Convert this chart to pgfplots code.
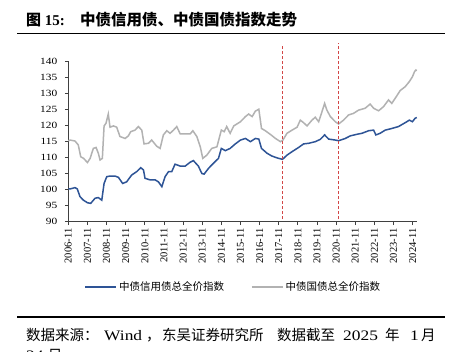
\documentclass[border=0pt]{standalone}
\usepackage{pgfplots}
\pgfplotsset{compat=1.18}
\usepackage{fontspec}
\setmainfont{Liberation Serif}
\newfontfamily\cjk{Noto Sans CJK SC}
\newfontfamily\wideserif[FakeStretch=1.2]{Liberation Serif}
\definecolor{blueline}{RGB}{46,84,150}
\definecolor{grayline}{RGB}{178,178,178}
\definecolor{reddash}{RGB}{210,70,70}
\begin{document}
\begin{tikzpicture}[x=1pt,y=1pt]
\path[use as bounding box] (0,0) rectangle (455,352);
\clip (0,0) rectangle (455,352);
\fill[white] (0,0) rectangle (455,352);
% title
\node[anchor=base west,inner sep=0pt] at (26,326) {\fontsize{15}{16}\selectfont{\cjk\bfseries 图} \textbf{15:}};
\node[anchor=base west,inner sep=0pt] at (80,326) {\fontsize{15.5}{16}\selectfont\cjk\bfseries 中债信用债、中债国债指数走势};
\draw[line width=1.6pt] (17,318.3) -- (445,318.3);
% bottom rule and source
\draw[line width=1.6pt] (17,35) -- (445,35);
\begin{scope}[every node/.style={anchor=base west,inner sep=0pt,font=\fontsize{14.5}{15}\selectfont}]
\node at (26,11) {\cjk 数据来源：};
\node at (104,11) {\wideserif Wind};
\node at (146,11) {\cjk ，};
\node at (162,11) {\cjk 东吴证券研究所};
\node at (277,11) {\cjk 数据截至};
\node at (343,11) {\wideserif 2025};
\node at (385,11) {\cjk 年};
\node at (410,11) {\wideserif 1};
\node at (421,11) {\cjk 月};
\node at (26,-9) {\wideserif 24 \cjk 日};
\end{scope}
\begin{axis}[
  at={(68.3pt,130.3pt)}, anchor=south west,
  scale only axis, width=349.1pt, height=160.7pt,
  xmin=0, xmax=18.25, ymin=90, ymax=140,
  axis x line*=bottom, axis y line*=left,
  axis line style={-, draw=black!75, line width=0.8pt},
  tick style={draw=black!75, line width=0.8pt},
  tick align=outside, major tick length=3.5pt,
  xtick={0,1,...,18},
  xticklabels={2006-11,2007-11,2008-11,2009-11,2010-11,2011-11,2012-11,2013-11,2014-11,2015-11,2016-11,2017-11,2018-11,2019-11,2020-11,2021-11,2022-11,2023-11,2024-11},
  ytick={90,95,...,140},
  /pgf/number format/assume math mode=true,
  x tick label style={rotate=90, anchor=east, font=\fontsize{10.5}{10.5}\selectfont},
  y tick label style={font=\wideserif\fontsize{9.5}{10}\selectfont, xshift=-4pt},
  clip=false,
  legend style={at={(0.473,-0.406)}, anchor=center, draw=none, fill=none,
    font=\cjk\fontsize{10.5}{11}\selectfont,
    /tikz/every even column/.append style={column sep=25pt}},
  legend columns=2,
  legend image code/.code={\draw[#1] (0pt,0pt) -- (31pt,0pt);},
]
\addplot[blueline, line width=1.5pt] coordinates {
(0,100.2) (0.1,100.2) (0.35,100.6) (0.47,100.2) (0.61,97.8) (0.79,96.7) (1.0,95.9) (1.17,95.7) (1.4,97.3) (1.57,97.5) (1.75,96.7) (1.87,101.9) (2.01,104.0) (2.18,104.2) (2.44,104.2) (2.62,103.8) (2.84,101.9) (3.05,102.4) (3.31,104.5) (3.58,105.6) (3.79,106.8) (3.93,106.1) (4.01,103.5) (4.28,103.0) (4.54,103.0) (4.71,102.4) (4.89,100.9) (5.06,104.0) (5.24,105.6) (5.41,105.6) (5.58,107.9) (5.85,107.3) (6.11,107.3) (6.37,108.5) (6.54,109.0) (6.8,107.3) (6.98,105.0) (7.1,104.8) (7.33,106.6) (7.59,108.2) (7.85,109.7) (8.0,112.8) (8.21,112.1) (8.46,112.8) (8.71,114.1) (9.0,115.4) (9.26,115.9) (9.52,114.9) (9.78,115.9) (9.96,115.7) (10.1,112.8) (10.39,111.3) (10.65,110.4) (11.0,109.7) (11.2,109.4) (11.43,110.7) (11.7,111.8) (12.04,113.1) (12.3,114.2) (12.57,114.4) (12.91,114.9) (13.17,115.6) (13.4,117.0) (13.61,115.7) (13.96,115.4) (14.13,115.2) (14.48,115.9) (14.74,116.7) (15.09,117.2) (15.35,117.5) (15.7,118.3) (15.96,118.5) (16.08,117.0) (16.3,117.5) (16.57,118.5) (16.91,119.0) (17.26,119.6) (17.61,120.8) (17.83,121.6) (17.99,121.1) (18.13,122.2) (18.22,122.4)
};
\addlegendentry{中债信用债总全价指数}
\addplot[grayline, line width=1.5pt] coordinates {
(0,115.2) (0.1,115.4) (0.35,115.1) (0.52,113.9) (0.65,110.2) (0.8,109.7) (1.0,108.4) (1.14,109.7) (1.31,112.8) (1.45,113.1) (1.57,111.3) (1.66,109.2) (1.78,109.7) (1.87,119.8) (1.97,120.6) (2.09,123.5) (2.18,119.4) (2.36,119.8) (2.53,119.4) (2.7,116.5) (2.97,115.9) (3.14,116.7) (3.26,118.0) (3.49,118.5) (3.66,119.6) (3.84,118.5) (3.96,114.2) (4.19,114.4) (4.36,115.4) (4.62,113.5) (4.8,112.8) (4.97,117.0) (5.15,118.3) (5.32,117.5) (5.5,118.5) (5.67,119.6) (5.85,117.3) (6.11,117.3) (6.37,117.3) (6.51,118.3) (6.72,116.5) (6.9,113.3) (7.03,109.7) (7.24,110.7) (7.5,112.8) (7.77,113.3) (8.0,118.5) (8.15,118.0) (8.28,119.6) (8.46,117.5) (8.65,119.8) (9.0,121.1) (9.26,122.7) (9.43,123.5) (9.61,122.7) (9.78,124.4) (9.96,125.0) (10.1,119.0) (10.3,118.3) (10.6,117.0) (10.83,115.9) (11.09,114.9) (11.22,115.4) (11.43,117.5) (11.7,118.5) (11.96,119.4) (12.13,121.6) (12.3,120.8) (12.48,119.8) (12.74,121.6) (12.91,122.5) (13.09,121.1) (13.26,124.2) (13.4,126.8) (13.52,124.7) (13.7,122.7) (13.96,121.1) (14.13,120.4) (14.39,121.6) (14.65,123.2) (14.91,123.7) (15.17,124.7) (15.52,125.3) (15.78,126.6) (15.96,125.3) (16.22,124.5) (16.48,125.8) (16.74,127.9) (16.91,126.8) (17.09,128.4) (17.35,130.8) (17.61,132.0) (17.83,133.6) (17.99,135.1) (18.1,136.7) (18.17,137.2) (18.22,137.0)
};
\addlegendentry{中债国债总全价指数}
\addplot[reddash, line width=1pt, dash pattern=on 3pt off 2pt, forget plot] coordinates {(11.21,90.8) (11.21,144.7)};
\addplot[reddash, line width=1pt, dash pattern=on 3pt off 2pt, forget plot] coordinates {(14.1,90.8) (14.1,145.5)};
\end{axis}
\end{tikzpicture}
\end{document}
